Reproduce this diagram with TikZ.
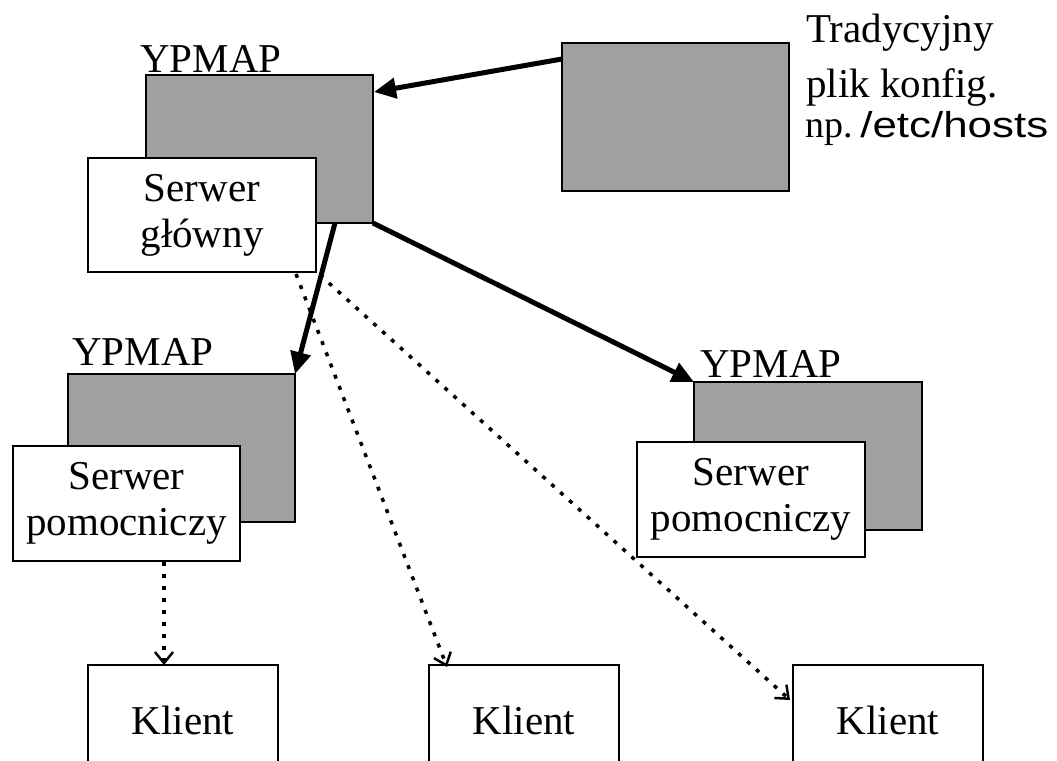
\documentclass[tikz,border=0pt]{standalone}
\usepackage{fontspec}
\setmainfont{Liberation Serif}
\setsansfont{Liberation Sans}
\newfontfamily\widesans[FakeStretch=1.22]{Liberation Sans}
\usetikzlibrary{arrows.meta,calc}
\definecolor{boxgray}{RGB}{160,160,160}
\begin{document}
\begin{tikzpicture}[x=1pt,y=-1pt,
  graybox/.style={draw=black, line width=2pt, fill=boxgray, anchor=north west,
    inner sep=0pt, outer sep=0pt, minimum width=227pt, minimum height=148pt},
  whitebox/.style={draw=black, line width=2pt, fill=white, anchor=north west,
    inner sep=0pt, outer sep=0pt, align=center, minimum width=228pt, minimum height=115pt,
    font=\fontsize{41}{46}\selectfont},
  clientbox/.style={draw=black, line width=2pt, fill=white, anchor=north west,
    inner sep=0pt, outer sep=0pt, minimum width=190pt, minimum height=110pt,
    font=\fontsize{41}{46}\selectfont},
  maplabel/.style={anchor=base west, inner sep=0pt, font=\fontsize{41}{46}\selectfont},
  filelabel/.style={anchor=base west, inner sep=0pt, font=\fontsize{41}{46}\selectfont},
  thickarr/.style={line width=5pt, -{Triangle[length=22pt,width=20pt]}},
  dotarr/.style={line width=3.5pt, dash pattern=on 4pt off 8pt,
    -{Straight Barb[length=11pt,width=18pt,line width=2.5pt]}}
]
\useasboundingbox (0,0) rectangle (1057,760);
\clip (0,0) rectangle (1057,760);

% gray map boxes
\node[graybox] (g1) at (146,75) {};
\node[graybox] (t) at (562,43) {};
\node[graybox] (m1g) at (68,374) {};
\node[graybox, minimum width=228pt] (m2g) at (694,382) {};

% YPMAP labels
\node[maplabel] (l1) at ($(g1.north west)+(-6,-2)$) {YPMAP};
\node[maplabel] (l2) at ($(m1g.north west)+(4,-9)$) {YPMAP};
\node[maplabel] (l3) at ($(m2g.north west)+(6,-5)$) {YPMAP};

% traditional file label
\node[filelabel] (tl1) at (806,43) {Tradycyjny};
\node[filelabel] (tl2) at (806,97) {plik konfig.};
\node[filelabel, font=\fontsize{38}{40}\selectfont] (tl3) at (805,137)
  {np.\hspace{0.2em}{\widesans\fontsize{36}{40}\selectfont /etc/hosts}};

% white server boxes
\node[whitebox, minimum height=114pt] (w1) at (88,158) {Serwer\\główny};
\node[whitebox, minimum width=227pt] (mw) at (13,446) {Serwer\\pomocniczy};
\node[whitebox] (rw) at (637,442) {Serwer\\pomocniczy};

% clients
\node[clientbox] (k1) at (88,665) {Klient};
\node[clientbox] (k2) at (429,665) {Klient};
\node[clientbox] (k3) at (793,665) {Klient};

% solid arrows
\draw[thickarr] ($(t.north west)+(0,16)$) -- ($(g1.north east)+(1,17)$);
\draw[thickarr] ($(g1.south east)+(-38,0)$) -- (m1g.north east);
\draw[thickarr] (g1.south east) -- (m2g.north west);

% dotted arrows
\draw[dotarr] ($(w1.south east)+(-20,2)$) -- ($(k2.north west)+(18,2)$);
\draw[dotarr] ($(w1.south east)+(4,3)$) -- ($(k3.north west)+(-3,35)$);
\draw[dotarr] ($(mw.south west)+(151,1)$) -- ($(k1.north west)+(76,0)$);
\end{tikzpicture}
\end{document}
